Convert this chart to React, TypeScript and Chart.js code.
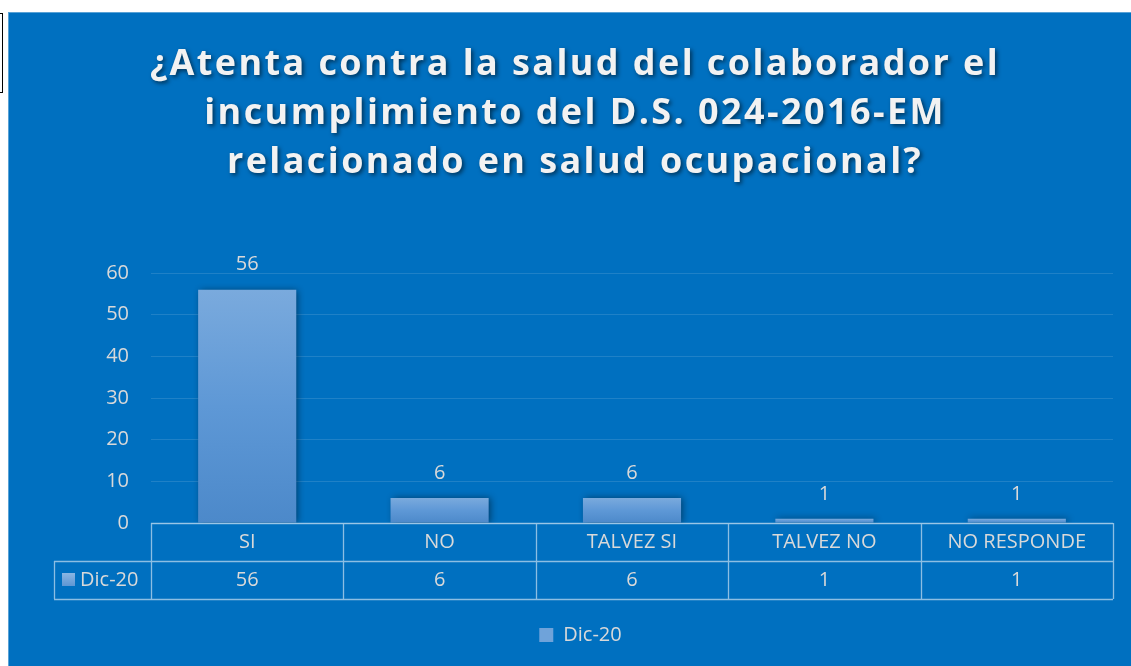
import React, { useEffect, useRef } from "react";
import { Chart, registerables } from "chart.js";

Chart.register(...registerables);

const titleLines = [
  "¿Atenta contra la salud del colaborador el",
  "incumplimiento del D.S. 024-2016-EM",
  "relacionado en salud ocupacional?",
];
const categories = ["SI", "NO", "TALVEZ SI", "TALVEZ NO", "NO RESPONDE"];
const seriesName = "Dic-20";
const seriesValues = [56, 6, 6, 1, 1];
const yMax = 60;
const yStep = 10;

const TEXT = "#D9D9D9";
const LINE = "rgba(255,255,255,0.55)";
const FONT = "'Open Sans', sans-serif";
const FS = 20;
const PAD_BOTTOM = 11;
const PAD_LEFT = 40;
const CHART_BOTTOM = 511;

const titlePlugin = {
  id: "titleDraw",
  afterDraw(chart: any) {
    const ctx = chart.ctx;
    ctx.save();
    ctx.font = `bold 36px ${FONT}`;
    (ctx as any).letterSpacing = "2.4px";
    ctx.textAlign = "center";
    ctx.textBaseline = "middle";
    ctx.fillStyle = "#F2F2F2";
    ctx.shadowColor = "rgba(0,0,0,0.55)";
    ctx.shadowBlur = 4;
    ctx.shadowOffsetX = 2;
    ctx.shadowOffsetY = 2;
    titleLines.forEach((t, i) => ctx.fillText(t, 567, 53 + i * 49));
    ctx.restore();
  },
};

const shadowPlugin = {
  id: "barShadow",
  beforeDatasetDraw(chart: any) {
    const ctx = chart.ctx;
    ctx.save();
    ctx.shadowColor = "rgba(0,0,0,0.45)";
    ctx.shadowBlur = 7;
    ctx.shadowOffsetX = 2;
    ctx.shadowOffsetY = 0;
  },
  afterDatasetDraw(chart: any) {
    chart.ctx.restore();
  },
};

const labelsPlugin = {
  id: "valueLabels",
  afterDatasetsDraw(chart: any) {
    const ctx = chart.ctx;
    const meta = chart.getDatasetMeta(0);
    ctx.save();
    ctx.font = `${FS}px ${FONT}`;
    ctx.fillStyle = TEXT;
    ctx.textAlign = "center";
    ctx.textBaseline = "middle";
    meta.data.forEach((bar: any, i: number) => {
      ctx.fillText(String(seriesValues[i]), bar.x, bar.y - 25);
    });
    ctx.restore();
  },
};

const tablePlugin = {
  id: "dataTable",
  afterDraw(chart: any) {
    const ctx = chart.ctx;
    const x = chart.scales.x;
    const area = chart.chartArea;
    const n = categories.length;
    const cw = (area.right - area.left) / n;
    const top = area.bottom;
    const rh = 38;
    const leftCol = 46;
    ctx.save();
    ctx.strokeStyle = LINE;
    ctx.lineWidth = 1.3;
    ctx.beginPath();
    ctx.moveTo(area.left, top + 0.5);
    ctx.lineTo(area.right, top + 0.5);
    ctx.moveTo(leftCol, top + rh + 0.5);
    ctx.lineTo(area.right, top + rh + 0.5);
    ctx.moveTo(leftCol, top + 2 * rh + 0.5);
    ctx.lineTo(area.right, top + 2 * rh + 0.5);
    ctx.moveTo(leftCol + 0.5, top + rh);
    ctx.lineTo(leftCol + 0.5, top + 2 * rh);
    for (let i = 0; i <= n; i++) {
      const px = Math.round(area.left + i * cw) + 0.5;
      ctx.moveTo(px, top);
      ctx.lineTo(px, top + 2 * rh);
    }
    ctx.stroke();

    ctx.font = `${FS}px ${FONT}`;
    ctx.fillStyle = TEXT;
    ctx.textAlign = "center";
    ctx.textBaseline = "middle";
    categories.forEach((c, i) => {
      const cx = x.getPixelForValue(i);
      ctx.fillText(c, cx, top + rh / 2);
      ctx.fillText(String(seriesValues[i]), cx, top + rh * 1.5);
    });
    const g = ctx.createLinearGradient(0, top + rh + 12, 0, top + rh + 26);
    g.addColorStop(0, "#8AB6E3");
    g.addColorStop(1, "#5B94D2");
    ctx.fillStyle = g;
    ctx.fillRect(54, top + rh + 12, 13, 13);
    ctx.fillStyle = TEXT;
    ctx.textAlign = "left";
    ctx.fillText(seriesName, 72, top + rh * 1.5);
    ctx.restore();
  },
};

function barFill(context: any) {
  const chart = context.chart;
  const y = chart.scales && chart.scales.y;
  if (!y || context.dataIndex === undefined) return "#6FA3DA";
  const v = seriesValues[context.dataIndex];
  const t = y.getPixelForValue(v);
  const b = y.getPixelForValue(0);
  if (!isFinite(t) || !isFinite(b) || b - t < 1) return "#6FA3DA";
  const g = chart.ctx.createLinearGradient(0, t, 0, b);
  g.addColorStop(0, "#7AAADD");
  g.addColorStop(0.5, "#5E98D6");
  g.addColorStop(1, "#4C89CA");
  return g;
}

export default function App() {
  const ref = useRef<HTMLCanvasElement>(null);
  useEffect(() => {
    if (!ref.current) return;
    const chart = new Chart(ref.current, {
      type: "bar",
      data: {
        labels: categories,
        datasets: [
          {
            label: seriesName,
            data: seriesValues,
            backgroundColor: barFill,
            borderWidth: 0,
            barPercentage: 0.51,
            categoryPercentage: 1,
          },
        ],
      },
      options: {
        animation: false,
        responsive: false,
        devicePixelRatio: 1,
        layout: { padding: { left: PAD_LEFT, right: 18, top: 261, bottom: PAD_BOTTOM } },
        plugins: {
          title: { display: false },
          tooltip: { enabled: false },
          legend: {
            display: true,
            position: "bottom",
            labels: {
              color: TEXT,
              font: { size: FS, family: FONT },
              boxWidth: 14,
              boxHeight: 14,
              padding: 10,
              generateLabels: () => [
                {
                  text: seriesName,
                  fillStyle: "#6FA3DA",
                  strokeStyle: "rgba(0,0,0,0)",
                  lineWidth: 0,
                  fontColor: TEXT,
                  hidden: false,
                  datasetIndex: 0,
                },
              ],
            },
          },
        },
        scales: {
          x: {
            grid: { display: false, drawTicks: false },
            border: { display: false },
            ticks: { display: false },
            afterFit: (scale: any) => {
              const lg = scale.chart.legend;
              const lh = lg && lg.height ? lg.height : 44;
              scale.height = scale.chart.height - PAD_BOTTOM - lh - CHART_BOTTOM;
            },
          },
          y: {
            min: 0,
            max: yMax,
            ticks: {
              stepSize: yStep,
              color: TEXT,
              font: { size: FS, family: FONT },
              padding: 22,
            },
            grid: { color: "rgba(255,255,255,0.12)", drawTicks: false },
            border: { display: false },
            afterFit: (scale: any) => {
              scale.width = 143 - PAD_LEFT;
            },
          },
        },
      },
      plugins: [titlePlugin, shadowPlugin, labelsPlugin, tablePlugin],
    });
    return () => chart.destroy();
  }, []);

  return (
    <div>
      <div
        style={{
          position: "absolute",
          left: -10,
          top: 13,
          width: 11,
          height: 78,
          border: "1px solid #000",
          background: "#fff",
        }}
      />
      <div
        style={{
          position: "absolute",
          left: 8,
          top: 12,
          width: 1123,
          height: 654,
          background: "#0070C0",
          boxShadow: "inset 1px 1px 0 rgba(255,255,255,0.35)",
        }}
      >
        <canvas ref={ref} width={1123} height={654} style={{ display: "block" }} />
      </div>
    </div>
  );
}
